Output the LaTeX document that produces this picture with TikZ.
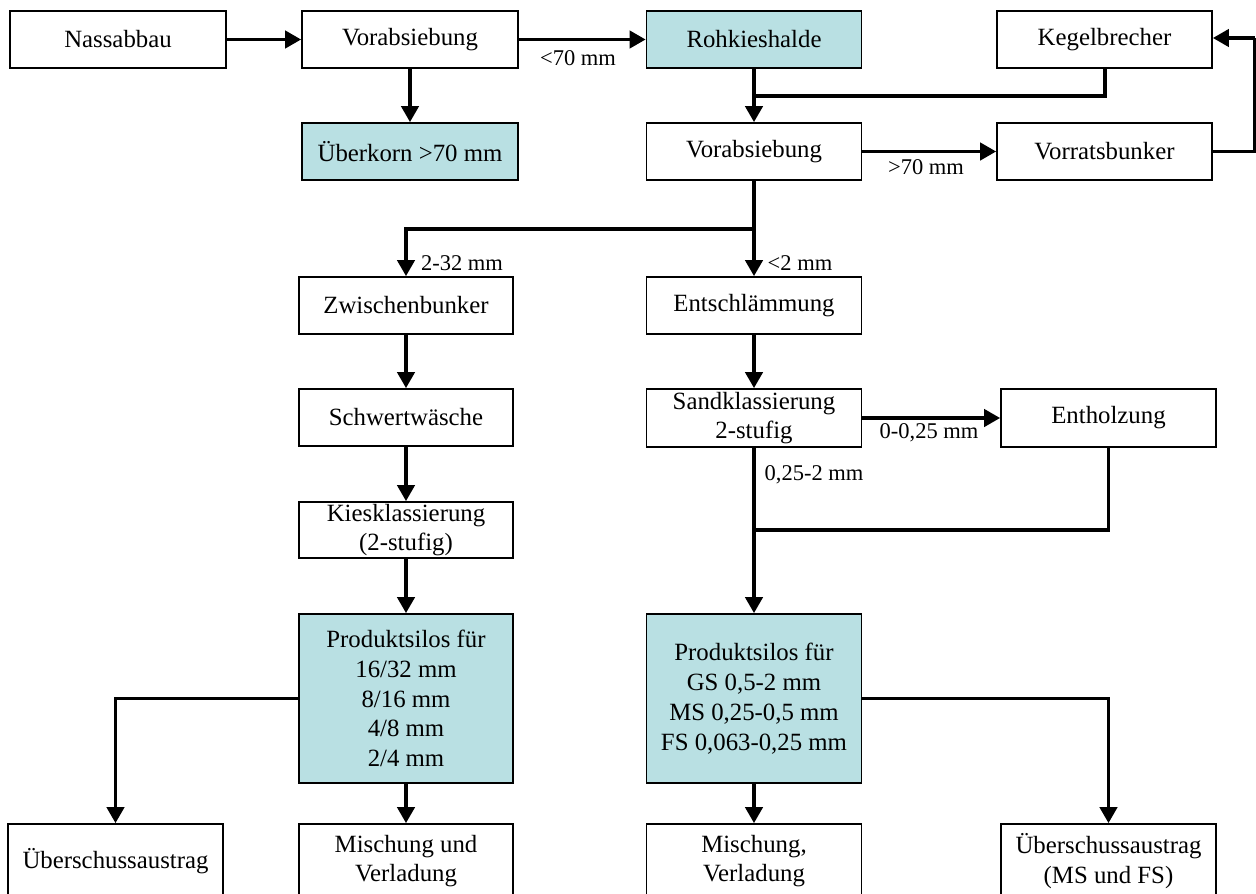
\documentclass[tikz,border=0pt]{standalone}
\usepackage{fontspec}
\setmainfont{Liberation Serif}
\usetikzlibrary{arrows.meta}
\definecolor{silo}{RGB}{185,224,227}
\begin{document}
\begin{tikzpicture}[x=1pt,y=-1pt,
  box/.style={draw=black,line width=1.6pt,minimum width=215pt,minimum height=57pt,inner sep=0pt,align=center,
    font=\fontsize{24.8}{29.8}\selectfont},
  fillbox/.style={box,fill=silo},
  conn/.style={line width=3.9pt},
  arr/.style={conn,-{Triangle[length=16pt,width=17pt]}},
  lbl/.style={font=\fontsize{22.5}{27}\selectfont,inner sep=0pt}]
\useasboundingbox (0,0) rectangle (1256,894);
% nodes
\node[box,minimum width=216pt] (nass) at (118,39.5) {Nassabbau};
\node[box,minimum width=216pt] (vor1) at (410,39.5) {Vorabsiebung};
\node[fillbox,minimum width=216pt] (uber) at (410,151.5) {Überkorn >70 mm};
\node[fillbox] (roh) at (754,39.5) {Rohkieshalde};
\node[box] (keg) at (1104.5,39.5) {Kegelbrecher};
\node[box] (vor2) at (754,151.5) {Vorabsiebung};
\node[box] (vorr) at (1104.5,151.5) {Vorratsbunker};
\node[box,minimum width=214pt] (zw) at (406,305.5) {Zwischenbunker};
\node[box,minimum width=214pt] (schw) at (406,417.5) {Schwertwäsche};
\node[box,minimum width=214pt,minimum height=56pt] (kies) at (406,530) {Kiesklassierung\\(2-stufig)};
\node[fillbox,minimum width=214pt,minimum height=169pt] (silo1) at (406,698.5) {Produktsilos für\\16/32 mm\\8/16 mm\\4/8 mm\\2/4 mm};
\node[box] (ent) at (754,305.5) {Entschlämmung};
\node[box,minimum height=58pt] (sand) at (754,418) {Sandklassierung\\2-stufig};
\node[box,minimum height=58pt] (entholz) at (1108.5,418) {Entholzung};
\node[fillbox,minimum height=169pt] (silo2) at (754,698.5) {Produktsilos für\\GS 0,5-2 mm\\MS 0,25-0,5 mm\\FS 0,063-0,25 mm};
\node[box,minimum height=74pt] (ub1) at (115.5,861) {Überschussaustrag};
\node[box,minimum width=214pt,minimum height=74pt] (misch1) at (406,861) {Mischung und\\Verladung};
\node[box,minimum height=74pt] (misch2) at (754,861) {Mischung,\\Verladung};
\node[box,minimum height=74pt] (ub2) at (1108.5,861) {Überschussaustrag\\(MS und FS)};
% helper coordinates
\coordinate (j1) at (754,96);
\coordinate (j2) at (754,229);
\coordinate (j3) at (754,530);
\coordinate (rr) at (1255,38);
% connectors
\draw[arr] (nass.east) -- (vor1.west);
\draw[arr] (vor1.east) -- (roh.west);
\node[lbl] (l70a) at (578,58) {<70 mm};
\draw[arr] (vor1.south) -- (uber.north);
\draw[arr] (roh.south) -- (vor2.north);
\draw[conn] (keg.south -| 1105,0) |- (j1);
\draw[arr] (vor2.east) -- (vorr.west);
\node[lbl] (l70b) at (926,167) {>70 mm};
\draw[conn] (vorr.east) -| (rr);
\draw[arr] (rr) -- (keg.east |- rr);
\draw[conn] (vor2.south) -- (j2);
\draw[arr] (j2) -| (zw.north);
\draw[arr] (j2) -- (ent.north);
\node[lbl] (l232) at (462,263) {2-32 mm};
\node[lbl] (l2) at (800,263) {<2 mm};
\draw[arr] (zw.south) -- (schw.north);
\draw[arr] (schw.south) -- (kies.north);
\draw[arr] (kies.south) -- (silo1.north);
\draw[arr] (ent.south) -- (sand.north);
\draw[arr] (sand.east) -- (entholz.west);
\node[lbl] (l025) at (929,433) {0-0,25 mm};
\draw[arr] (sand.south) -- (silo2.north);
\node[lbl] (l252) at (814,475) {0,25-2 mm};
\draw[conn] (entholz.south) |- (j3);
\draw[arr] (silo1.west) -| (ub1.north);
\draw[arr] (silo1.south) -- (misch1.north);
\draw[arr] (silo2.south) -- (misch2.north);
\draw[arr] (silo2.east) -| (ub2.north);
\end{tikzpicture}
\end{document}
